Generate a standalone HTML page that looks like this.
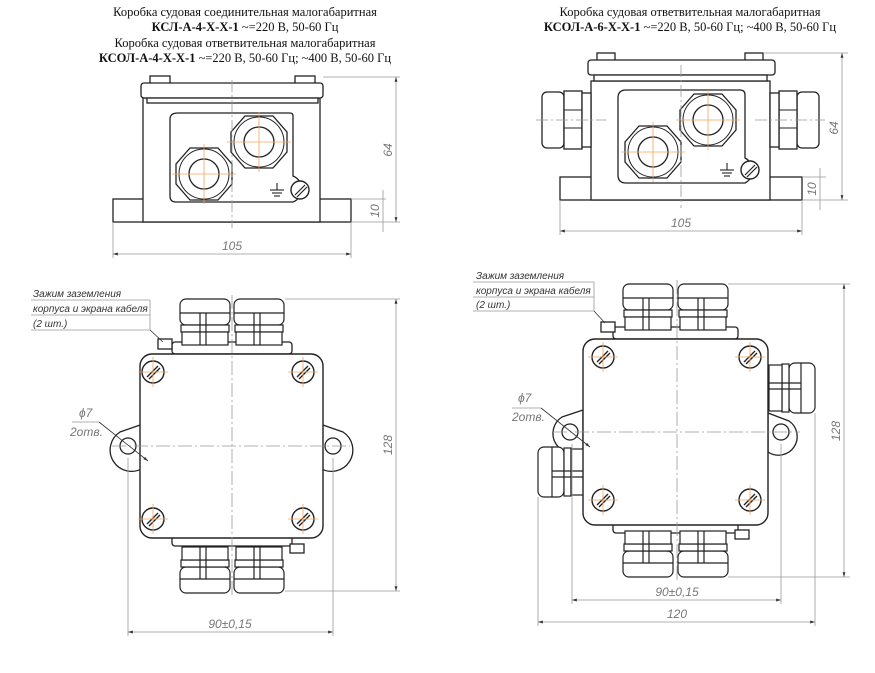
<!DOCTYPE html>
<html><head><meta charset="utf-8"><style>
html,body{margin:0;padding:0;background:#fff}
svg{display:block}
.t{font-family:"Liberation Serif",serif;font-size:12.5px;fill:#111}
.b{font-weight:bold}
.d{font-family:"Liberation Sans",sans-serif;font-style:italic;font-size:12px;fill:#777}
.l{font-family:"Liberation Sans",sans-serif;font-style:italic;font-size:10px;fill:#333}
</style></head><body>
<svg width="875" height="673" viewBox="0 0 875 673" xmlns="http://www.w3.org/2000/svg">
<defs>
<g id="gl" fill="#fff" stroke="#222" stroke-width="1.2">
 <rect x="0" y="0" width="50" height="26" rx="6"/>
 <rect x="1" y="26" width="48" height="7"/>
 <rect x="2" y="33" width="46" height="13"/>
 <line x1="20" y1="14" x2="20" y2="46"/><line x1="26" y1="14" x2="26" y2="46"/>
 <line x1="0" y1="14" x2="50" y2="14"/>
</g>
<g id="sc">
 <circle r="11" fill="#fff" stroke="#222" stroke-width="1.4"/>
 <line x1="-6" y1="5" x2="5" y2="-6" stroke="#222" stroke-width="1.3"/>
 <line x1="-4" y1="7" x2="7" y2="-4" stroke="#222" stroke-width="1.3"/>
 <line x1="-15" y1="0" x2="15" y2="0" stroke="#f4a460" stroke-width="0.8"/>
 <line x1="0" y1="-15" x2="0" y2="15" stroke="#f4a460" stroke-width="0.8"/>
</g>
<g id="nut">
 <polygon points="-14,-26 14,-26 28,-10 28,10 14,26 -14,26 -28,10 -28,-10" fill="#fff" stroke="#222" stroke-width="1.3"/>
 <circle r="25" fill="none" stroke="#222" stroke-width="1"/>
 <circle r="15" fill="#fff" stroke="#222" stroke-width="1.3"/>
 <line x1="-32" y1="0" x2="32" y2="0" stroke="#f4a460" stroke-width="0.8"/>
 <line x1="0" y1="-30" x2="0" y2="30" stroke="#f4a460" stroke-width="0.8"/>
</g>
<g id="gnd" stroke="#222" stroke-width="1.1">
 <line x1="0" y1="-7" x2="0" y2="0"/><line x1="-7" y1="0" x2="7" y2="0"/><line x1="-5" y1="3" x2="5" y2="3"/><line x1="-3" y1="6" x2="3" y2="6"/>
</g>
<g id="ms"><circle r="9" fill="#fff" stroke="#222" stroke-width="1.4"/><line x1="-5" y1="5" x2="5" y2="-5" stroke="#222" stroke-width="1.2"/><line x1="-3" y1="7" x2="7" y2="-3" stroke="#222" stroke-width="1.2"/></g>
<marker id="ar" viewBox="0 0 10 10" refX="10" refY="5" markerWidth="9" markerHeight="6" orient="auto-start-reverse"><path d="M0,2 L10,5 L0,8z" fill="#333"/></marker>
</defs>

<text class="t" x="245" y="16" text-anchor="middle">Коробка судовая соединительная малогабаритная</text>
<text class="t" x="245" y="31" text-anchor="middle"><tspan class="b">КСЛ-А-4-Х-Х-1</tspan> ~=220 В, 50-60 Гц</text>
<text class="t" x="245" y="47" text-anchor="middle">Коробка судовая ответвительная малогабаритная</text>
<text class="t" x="245" y="62" text-anchor="middle"><tspan class="b">КСОЛ-А-4-Х-Х-1</tspan> ~=220 В, 50-60 Гц; ~400 В, 50-60 Гц</text>
<text class="t" x="690" y="16" text-anchor="middle">Коробка судовая ответвительная малогабаритная</text>
<text class="t" x="690" y="31" text-anchor="middle"><tspan class="b">КСОЛ-А-6-Х-Х-1</tspan> ~=220 В, 50-60 Гц; ~400 В, 50-60 Гц</text>

<g fill="#fff" stroke="#222" stroke-width="1.3">
<rect x="113" y="199" width="238" height="23"/>
<rect x="143" y="98" width="177" height="124"/>
<rect x="150" y="76" width="20" height="8"/><rect x="295" y="76" width="20" height="8"/>
<rect x="141" y="83" width="182" height="15" rx="3"/>
<rect x="147" y="98" width="171" height="5"/>
<path d="M178,113 H290 Q293,113 293,116 V176 A14,14 0 0 1 293,202 H176 Q170,202 170,196 V119 Q170,113 178,113Z"/>
</g>
<use href="#nut" x="259" y="142"/><use href="#nut" x="204" y="174"/>
<use href="#ms" x="300" y="190"/><use href="#gnd" x="277" y="190"/>
<g stroke="#999" stroke-width="0.8" fill="none">
<line x1="232" y1="80" x2="232" y2="228" stroke-dasharray="12,3,2,3"/>
<line x1="323" y1="77" x2="400" y2="77"/><line x1="351" y1="222" x2="400" y2="222"/><line x1="351" y1="199" x2="386" y2="199"/>
<line x1="396" y1="77" x2="396" y2="222" marker-start="url(#ar)" marker-end="url(#ar)"/>
<line x1="383" y1="190" x2="383" y2="232"/>
<line x1="113" y1="222" x2="113" y2="258"/><line x1="351" y1="222" x2="351" y2="258"/>
<line x1="113" y1="254" x2="351" y2="254" marker-start="url(#ar)" marker-end="url(#ar)"/>
</g>
<text class="d" transform="translate(392,150) rotate(-90)" text-anchor="middle">64</text>
<text class="d" transform="translate(379,211) rotate(-90)" text-anchor="middle">10</text>
<text class="d" x="232" y="250" text-anchor="middle">105</text>

<g fill="#fff" stroke="#222" stroke-width="1.3">
<rect x="560" y="177" width="242" height="23"/>
<rect x="591" y="81" width="179" height="119"/>
<rect x="597" y="53" width="18" height="8"/><rect x="745" y="53" width="18" height="8"/>
<rect x="588" y="60" width="187" height="15" rx="3"/>
<rect x="594" y="75" width="173" height="6"/>
<rect x="542" y="92" width="22" height="56" rx="5"/><rect x="564" y="91" width="18" height="58"/><rect x="582" y="93" width="9" height="54"/>
<rect x="797" y="92" width="22" height="56" rx="5"/><rect x="779" y="91" width="18" height="58"/><rect x="770" y="93" width="9" height="54"/>
<path d="M626,90 H740 Q745,90 745,95 V158 A14,14 0 0 1 745,183 H626 Q618,183 618,175 V98 Q618,90 626,90Z"/>
</g>
<g stroke="#222" stroke-width="1"><line x1="564" y1="110" x2="582" y2="110"/><line x1="564" y1="128" x2="582" y2="128"/><line x1="779" y1="110" x2="797" y2="110"/><line x1="779" y1="128" x2="797" y2="128"/></g>
<use href="#nut" x="708" y="120"/><use href="#nut" x="653" y="152"/>
<use href="#ms" x="750" y="170"/><use href="#gnd" x="727" y="170"/>
<g stroke="#999" stroke-width="0.8" fill="none">
<line x1="681" y1="65" x2="681" y2="208" stroke-dasharray="12,3,2,3"/>
<line x1="536" y1="120" x2="606" y2="120" stroke-dasharray="12,3,2,3"/><line x1="755" y1="120" x2="825" y2="120" stroke-dasharray="12,3,2,3"/>
<line x1="763" y1="53" x2="848" y2="53"/><line x1="802" y1="200" x2="848" y2="200"/><line x1="802" y1="177" x2="826" y2="177"/>
<line x1="842" y1="53" x2="842" y2="200" marker-start="url(#ar)" marker-end="url(#ar)"/>
<line x1="820" y1="168" x2="820" y2="210"/>
<line x1="560" y1="200" x2="560" y2="235"/><line x1="802" y1="200" x2="802" y2="235"/>
<line x1="560" y1="231" x2="802" y2="231" marker-start="url(#ar)" marker-end="url(#ar)"/>
</g>
<text class="d" transform="translate(838,128) rotate(-90)" text-anchor="middle">64</text>
<text class="d" transform="translate(816,189) rotate(-90)" text-anchor="middle">10</text>
<text class="d" x="681" y="227" text-anchor="middle">105</text>

<g fill="#fff" stroke="#222" stroke-width="1.3">
<path d="M143,424 L120,432 A18,18 0 0 0 143,468Z"/>
<path d="M320,424 L343,432 A18,18 0 0 1 320,468Z"/>
<rect x="172" y="342" width="120" height="12" rx="3"/>
<rect x="172" y="536" width="120" height="10" rx="3"/>
</g>
<use href="#gl" x="180" y="299"/><use href="#gl" x="234" y="299"/>
<use href="#gl" transform="translate(180,593) scale(1,-1)"/><use href="#gl" transform="translate(234,593) scale(1,-1)"/>
<rect x="140" y="354" width="183" height="184" rx="12" fill="#fff" stroke="#222" stroke-width="1.4"/>
<circle cx="128" cy="446" r="8" fill="#fff" stroke="#222" stroke-width="1.3"/><circle cx="333" cy="446" r="8" fill="#fff" stroke="#222" stroke-width="1.3"/>
<rect x="158" y="339" width="14" height="10" fill="#fff" stroke="#222" stroke-width="1.3"/>
<rect x="290" y="544" width="14" height="9" fill="#fff" stroke="#222" stroke-width="1.3"/>
<use href="#sc" x="153" y="372"/><use href="#sc" x="303" y="372"/><use href="#sc" x="153" y="519"/><use href="#sc" x="303" y="519"/>
<g stroke="#999" stroke-width="0.8" fill="none">
<line x1="232" y1="295" x2="232" y2="598" stroke-dasharray="14,3,2,3"/>
<line x1="112" y1="446" x2="350" y2="446" stroke-dasharray="14,3,2,3"/>
<line x1="285" y1="299" x2="400" y2="299"/><line x1="285" y1="591" x2="400" y2="591"/>
<line x1="396" y1="299" x2="396" y2="591" marker-start="url(#ar)" marker-end="url(#ar)"/>
<line x1="128" y1="458" x2="128" y2="636"/><line x1="333" y1="458" x2="333" y2="636"/>
<line x1="128" y1="632" x2="333" y2="632" marker-start="url(#ar)" marker-end="url(#ar)"/>
<line x1="72" y1="422" x2="99" y2="422"/><line x1="99" y1="422" x2="148" y2="461" stroke="#333" marker-end="url(#ar)"/>
<line x1="31" y1="300" x2="150" y2="300"/><line x1="31" y1="315" x2="150" y2="315"/><line x1="31" y1="330" x2="150" y2="330"/>
<line x1="150" y1="300" x2="150" y2="330"/><line x1="150" y1="330" x2="163" y2="342" stroke="#333"/>
</g>
<text class="d" x="79" y="417">ϕ7</text><text class="d" x="70" y="436">2отв.</text>
<text class="d" transform="translate(392,445) rotate(-90)" text-anchor="middle">128</text>
<text class="d" x="230" y="628" text-anchor="middle">90±0,15</text>
<text class="l" x="33" y="297">Зажим заземления</text>
<text class="l" x="33" y="312">корпуса и экрана кабеля</text>
<text class="l" x="33" y="327">(2 шт.)</text>

<g fill="#fff" stroke="#222" stroke-width="1.3">
<path d="M583,410 L562,417 A18,18 0 0 0 583,450Z"/>
<path d="M768,413 L789,421 A18,18 0 0 1 768,452Z"/>
<rect x="613" y="327" width="125" height="12" rx="3"/>
<rect x="613" y="523" width="125" height="10" rx="3"/>
</g>
<use href="#gl" x="623" y="284"/><use href="#gl" x="678" y="284"/>
<use href="#gl" transform="translate(623,577) scale(1,-1)"/><use href="#gl" transform="translate(678,577) scale(1,-1)"/>
<use href="#gl" transform="translate(815,363) rotate(90)"/>
<use href="#gl" transform="translate(538,497) rotate(-90)"/>
<rect x="583" y="339" width="185" height="186" rx="12" fill="#fff" stroke="#222" stroke-width="1.4"/>
<circle cx="570" cy="432" r="8" fill="#fff" stroke="#222" stroke-width="1.3"/><circle cx="781" cy="432" r="8" fill="#fff" stroke="#222" stroke-width="1.3"/>
<rect x="601" y="322" width="14" height="10" fill="#fff" stroke="#222" stroke-width="1.3"/>
<rect x="735" y="530" width="14" height="9" fill="#fff" stroke="#222" stroke-width="1.3"/>
<use href="#sc" x="603" y="357"/><use href="#sc" x="750" y="357"/><use href="#sc" x="603" y="500"/><use href="#sc" x="750" y="500"/>
<g stroke="#999" stroke-width="0.8" fill="none">
<line x1="677" y1="280" x2="677" y2="582" stroke-dasharray="14,3,2,3"/>
<line x1="553" y1="432" x2="800" y2="432" stroke-dasharray="14,3,2,3"/>
<line x1="728" y1="284" x2="850" y2="284"/><line x1="728" y1="577" x2="850" y2="577"/>
<line x1="844" y1="284" x2="844" y2="577" marker-start="url(#ar)" marker-end="url(#ar)"/>
<line x1="572" y1="444" x2="572" y2="604"/><line x1="781" y1="444" x2="781" y2="604"/>
<line x1="572" y1="600" x2="781" y2="600" marker-start="url(#ar)" marker-end="url(#ar)"/>
<line x1="538" y1="497" x2="538" y2="626"/><line x1="815" y1="413" x2="815" y2="626"/>
<line x1="538" y1="622" x2="815" y2="622" marker-start="url(#ar)" marker-end="url(#ar)"/>
<line x1="512" y1="408" x2="541" y2="408"/><line x1="541" y1="408" x2="590" y2="447" stroke="#333" marker-end="url(#ar)"/>
<line x1="473" y1="282" x2="594" y2="282"/><line x1="473" y1="297" x2="594" y2="297"/><line x1="473" y1="311" x2="594" y2="311"/>
<line x1="594" y1="282" x2="594" y2="311"/><line x1="594" y1="311" x2="605" y2="323" stroke="#333"/>
</g>
<text class="d" x="518" y="402">ϕ7</text><text class="d" x="512" y="421">2отв.</text>
<text class="d" transform="translate(840,431) rotate(-90)" text-anchor="middle">128</text>
<text class="d" x="677" y="596" text-anchor="middle">90±0,15</text>
<text class="d" x="677" y="618" text-anchor="middle">120</text>
<text class="l" x="476" y="279">Зажим заземления</text>
<text class="l" x="476" y="294">корпуса и экрана кабеля</text>
<text class="l" x="476" y="308">(2 шт.)</text>
</svg>
</body></html>
